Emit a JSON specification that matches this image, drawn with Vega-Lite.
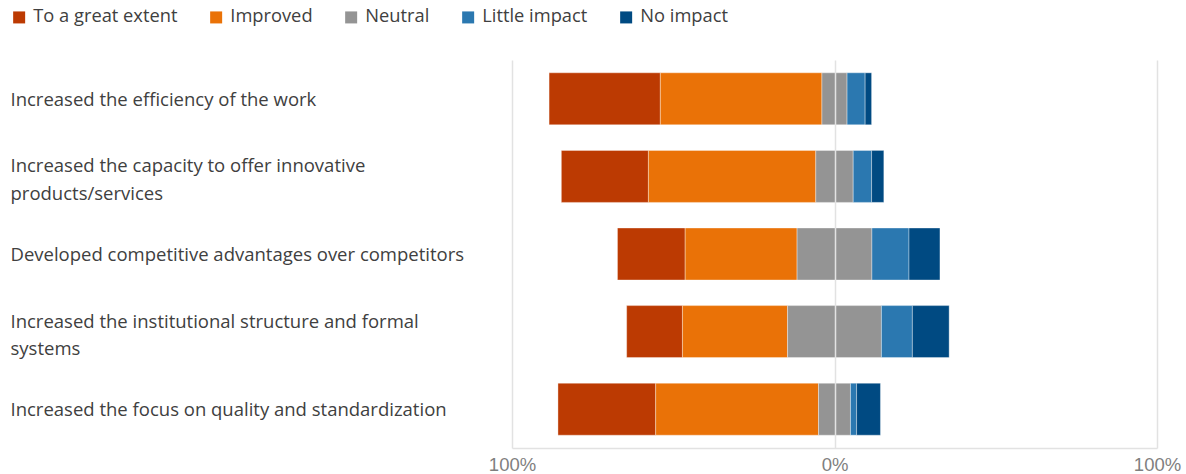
{
  "$schema": "https://vega.github.io/schema/vega-lite/v6.json",
  "width": 645,
  "height": 388,
  "autosize": "none",
  "padding": {"left": 512, "top": 60, "right": 29, "bottom": 26},
  "background": "white",
  "config": {"view": {"stroke": null}, "font": "Open Sans"},
  "data": {
    "values": [
      {"question": "Increased the efficiency of the work", "response": "To a great extent", "pct": 34.5},
      {"question": "Increased the efficiency of the work", "response": "Improved", "pct": 50.1},
      {"question": "Increased the efficiency of the work", "response": "Neutral", "pct": 7.8},
      {"question": "Increased the efficiency of the work", "response": "Little impact", "pct": 5.6},
      {"question": "Increased the efficiency of the work", "response": "No impact", "pct": 2.0},
      {"question": "Increased the capacity to offer innovative|products/services", "response": "To a great extent", "pct": 27.0},
      {"question": "Increased the capacity to offer innovative|products/services", "response": "Improved", "pct": 51.9},
      {"question": "Increased the capacity to offer innovative|products/services", "response": "Neutral", "pct": 11.6},
      {"question": "Increased the capacity to offer innovative|products/services", "response": "Little impact", "pct": 5.7},
      {"question": "Increased the capacity to offer innovative|products/services", "response": "No impact", "pct": 3.8},
      {"question": "Developed competitive advantages over competitors", "response": "To a great extent", "pct": 21.0},
      {"question": "Developed competitive advantages over competitors", "response": "Improved", "pct": 34.7},
      {"question": "Developed competitive advantages over competitors", "response": "Neutral", "pct": 23.2},
      {"question": "Developed competitive advantages over competitors", "response": "Little impact", "pct": 11.5},
      {"question": "Developed competitive advantages over competitors", "response": "No impact", "pct": 9.6},
      {"question": "Increased the institutional structure and formal|systems", "response": "To a great extent", "pct": 17.3},
      {"question": "Increased the institutional structure and formal|systems", "response": "Improved", "pct": 32.6},
      {"question": "Increased the institutional structure and formal|systems", "response": "Neutral", "pct": 29.1},
      {"question": "Increased the institutional structure and formal|systems", "response": "Little impact", "pct": 9.6},
      {"question": "Increased the institutional structure and formal|systems", "response": "No impact", "pct": 11.4},
      {"question": "Increased the focus on quality and standardization", "response": "To a great extent", "pct": 30.3},
      {"question": "Increased the focus on quality and standardization", "response": "Improved", "pct": 50.5},
      {"question": "Increased the focus on quality and standardization", "response": "Neutral", "pct": 9.9},
      {"question": "Increased the focus on quality and standardization", "response": "Little impact", "pct": 1.9},
      {"question": "Increased the focus on quality and standardization", "response": "No impact", "pct": 7.4}
    ]
  },
  "transform": [
    {"calculate": "indexof(['To a great extent','Improved','Neutral','Little impact','No impact'], datum.response)", "as": "ord"},
    {"calculate": "datum.ord < 2 ? datum.pct : (datum.ord == 2 ? datum.pct / 2 : 0)", "as": "leftpart"},
    {"joinaggregate": [{"op": "sum", "field": "leftpart", "as": "offset"}], "groupby": ["question"]},
    {"window": [{"op": "sum", "field": "pct", "as": "cum"}], "groupby": ["question"], "sort": [{"field": "ord"}], "frame": [null, 0]},
    {"calculate": "datum.cum - datum.pct - datum.offset", "as": "start"},
    {"calculate": "datum.cum - datum.offset", "as": "end"}
  ],
  "mark": {"type": "bar", "stroke": "white", "strokeWidth": 0.6, "strokeOpacity": 0.6},
  "encoding": {
    "y": {
      "field": "question",
      "type": "nominal",
      "sort": [
        "Increased the efficiency of the work",
        "Increased the capacity to offer innovative|products/services",
        "Developed competitive advantages over competitors",
        "Increased the institutional structure and formal|systems",
        "Increased the focus on quality and standardization"
      ],
      "scale": {"paddingInner": 0.33, "paddingOuter": 0.165},
      "axis": {
        "title": null,
        "ticks": false,
        "domain": false,
        "grid": false,
        "labelAlign": "left",
        "labelPadding": 502,
        "labelFontSize": 18.5,
        "labelColor": "#404040",
        "labelExpr": "split(datum.label, '|')",
        "labelLineHeight": 27.5,
        "labelLimit": 490,
        "labelOffset": {"condition": {"test": "indexof(datum.value, '|') >= 0", "value": -10}, "value": 1}
      }
    },
    "x": {
      "field": "start",
      "type": "quantitative",
      "scale": {"domain": [-100, 100], "nice": false},
      "axis": {
        "title": null,
        "values": [-100, 0, 100],
        "labelExpr": "abs(datum.value) + '%'",
        "grid": true,
        "gridColor": "#e2e2e2",
        "gridWidth": 1.5,
        "domainColor": "#e2e2e2",
        "domainWidth": 1.5,
        "ticks": false,
        "labelFont": "Liberation Sans",
        "labelFontSize": 18.5,
        "labelColor": "#7f7f7f",
        "labelPadding": 7,
        "labelFlush": false,
        "zindex": 1
      }
    },
    "x2": {"field": "end"},
    "color": {
      "field": "response",
      "type": "nominal",
      "scale": {
        "domain": ["To a great extent", "Improved", "Neutral", "Little impact", "No impact"],
        "range": ["#BC3A02", "#EA7207", "#949494", "#2B78B0", "#004A82"]
      },
      "legend": {
        "title": null,
        "orient": "none",
        "legendX": -502,
        "legendY": -52,
        "direction": "horizontal",
        "symbolType": "square",
        "symbolSize": 144,
        "symbolStrokeWidth": 0,
        "symbolOpacity": 1,
        "labelFontSize": 18.3,
        "labelColor": "#404040",
        "labelOffset": 5,
        "columnPadding": 29
      }
    }
  }
}
